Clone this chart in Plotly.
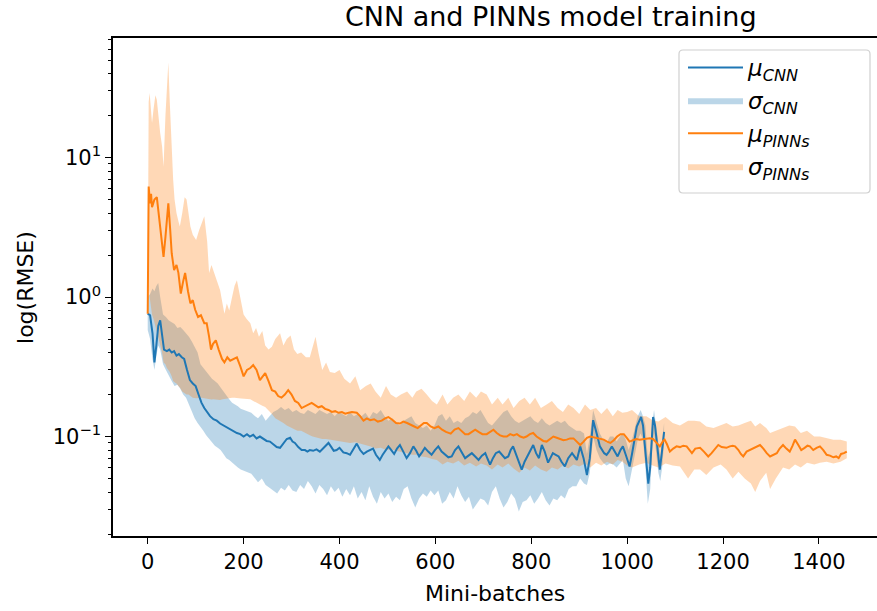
import plotly.graph_objects as go

# ---------------- data ----------------
cnn_x = [0, 5, 10, 14, 18, 22, 26, 30, 34, 40, 45, 50, 55, 60, 65, 71, 76, 82, 88, 94, 100, 106, 112, 118, 123,
         130, 137, 144, 151, 158, 163, 168, 175, 180, 186, 193, 200, 207, 213, 220, 227, 234, 241, 248, 255, 262,
         269, 276, 283, 290, 297, 302, 307, 314, 321, 328, 333, 338, 345, 352, 359, 366, 372, 377, 383, 388, 394,
         400, 408, 415, 422, 429, 436, 443, 450, 457, 464, 470, 476, 484, 490, 496, 502, 508, 514, 520, 526, 533,
         540, 547, 554, 560, 566, 572, 578, 585, 592, 599, 606, 613, 620, 627, 634, 641, 648, 655, 662, 669, 676,
         683, 690, 697, 704, 709, 714, 720, 726, 733, 739, 745, 752, 757, 762, 768, 774, 780, 786, 792, 798, 804,
         810, 816, 822, 828, 835, 840, 845, 851, 857, 863, 870, 877, 885, 890, 895, 902, 909, 916, 922, 929, 934,
         938, 943, 947, 952, 957, 962, 968, 974, 980, 986, 991, 997, 1005, 1010, 1015, 1020, 1026, 1029, 1033,
         1036, 1040, 1044, 1048, 1051, 1054, 1058, 1061, 1065, 1068, 1072, 1075, 1077]
cnn_mu = [0.76, 0.74, 0.55, 0.34, 0.45, 0.62, 0.68, 0.55, 0.42, 0.41, 0.42, 0.40, 0.41, 0.38, 0.39, 0.37, 0.36,
          0.30, 0.254, 0.24, 0.23, 0.20, 0.175, 0.16, 0.15, 0.14, 0.133, 0.13, 0.124, 0.12, 0.117, 0.114, 0.111,
          0.108, 0.106, 0.104, 0.10, 0.104, 0.1, 0.103, 0.097, 0.10, 0.096, 0.093, 0.092, 0.088, 0.084, 0.083,
          0.09, 0.096, 0.098, 0.092, 0.09, 0.084, 0.08, 0.08, 0.078, 0.08, 0.079, 0.081, 0.078, 0.083, 0.086,
          0.09, 0.084, 0.079, 0.08, 0.083, 0.077, 0.076, 0.074, 0.082, 0.089, 0.08, 0.075, 0.078, 0.08, 0.082,
          0.074, 0.068, 0.074, 0.08, 0.085, 0.08, 0.075, 0.082, 0.087, 0.078, 0.07, 0.076, 0.085, 0.079, 0.072,
          0.077, 0.083, 0.078, 0.074, 0.08, 0.085, 0.078, 0.074, 0.071, 0.072, 0.08, 0.085, 0.077, 0.07, 0.073,
          0.076, 0.072, 0.068, 0.073, 0.076, 0.069, 0.063, 0.07, 0.076, 0.078, 0.074, 0.07, 0.072, 0.08, 0.085,
          0.075, 0.064, 0.058, 0.066, 0.072, 0.08, 0.087, 0.076, 0.07, 0.087, 0.078, 0.065, 0.07, 0.076, 0.074,
          0.072, 0.066, 0.061, 0.07, 0.076, 0.072, 0.068, 0.085, 0.07, 0.053, 0.07, 0.131, 0.115, 0.10, 0.085,
          0.08, 0.076, 0.074, 0.078, 0.085, 0.078, 0.072, 0.08, 0.085, 0.074, 0.061, 0.075, 0.095, 0.118, 0.131,
          0.138, 0.12, 0.095, 0.065, 0.046, 0.06, 0.10, 0.138, 0.12, 0.095, 0.07, 0.058, 0.075, 0.095, 0.108]

cnn_band_x = [0, 5, 10, 14, 18, 22, 26, 32, 38, 44, 50, 56, 62, 68, 74, 80, 86, 92, 98, 104, 110, 116, 122, 128,
              134, 140, 146, 152, 158, 164, 170, 176, 182, 188, 194, 200, 208, 216, 224, 230, 238, 246, 254, 262,
              270, 278, 286, 294, 302, 310, 318, 326, 334, 342, 350, 358, 366, 374, 382, 390, 398, 406, 414, 422,
              430, 438, 446, 454, 462, 470, 478, 486, 494, 502, 510, 518, 526, 534, 542, 550, 558, 566, 574, 582,
              590, 598, 606, 614, 622, 630, 638, 646, 654, 662, 670, 678, 686, 694, 702, 710, 718, 726, 734, 742,
              750, 758, 766, 774, 782, 790, 798, 806, 814, 822, 830, 838, 846, 854, 862, 870, 878, 886, 894, 902,
              910, 916, 922, 929, 936, 943, 950, 957, 964, 971, 978, 985, 991, 997, 1003, 1010, 1016, 1022, 1028,
              1033, 1038, 1043, 1048, 1052, 1056, 1060, 1065, 1069, 1073, 1077]
cnn_lo = [0.58, 0.50, 0.36, 0.30, 0.38, 0.45, 0.42, 0.33, 0.30, 0.27, 0.25, 0.23, 0.235, 0.22, 0.20, 0.19, 0.17,
          0.15, 0.135, 0.125, 0.118, 0.11, 0.102, 0.096, 0.09, 0.086, 0.083, 0.08, 0.075, 0.07, 0.068, 0.065,
          0.062, 0.06, 0.058, 0.057, 0.055, 0.054, 0.05, 0.047, 0.05, 0.045, 0.043, 0.041, 0.039, 0.043, 0.041,
          0.045, 0.041, 0.04, 0.045, 0.042, 0.048, 0.044, 0.039, 0.045, 0.042, 0.038, 0.044, 0.04, 0.043, 0.037,
          0.042, 0.038, 0.044, 0.036, 0.04, 0.035, 0.044, 0.037, 0.033, 0.04, 0.036, 0.039, 0.034, 0.037, 0.035,
          0.042, 0.044, 0.036, 0.031, 0.036, 0.039, 0.037, 0.041, 0.038, 0.041, 0.033, 0.035, 0.04, 0.036, 0.044,
          0.038, 0.034, 0.037, 0.03, 0.033, 0.036, 0.035, 0.032, 0.04, 0.044, 0.036, 0.031, 0.034, 0.039, 0.036,
          0.029, 0.034, 0.035, 0.038, 0.033, 0.036, 0.04, 0.035, 0.032, 0.036, 0.035, 0.038, 0.036, 0.042, 0.044,
          0.044, 0.05, 0.046, 0.045, 0.055, 0.10, 0.08, 0.07, 0.065, 0.062, 0.064, 0.063, 0.06, 0.064, 0.068,
          0.05, 0.044, 0.058, 0.075, 0.095, 0.105, 0.095, 0.06, 0.033, 0.042, 0.08, 0.105, 0.08, 0.055, 0.048,
          0.06, 0.09]
cnn_hi = [1.00, 1.05, 1.15, 1.10, 1.20, 1.26, 1.00, 0.75, 0.72, 0.68, 0.66, 0.64, 0.60, 0.61, 0.58, 0.55, 0.52,
          0.48, 0.44, 0.40, 0.33, 0.31, 0.29, 0.275, 0.26, 0.25, 0.24, 0.225, 0.21, 0.195, 0.185, 0.175, 0.17,
          0.165, 0.158, 0.155, 0.15, 0.148, 0.14, 0.135, 0.145, 0.13, 0.14, 0.15, 0.155, 0.163, 0.155, 0.16, 0.15,
          0.155, 0.148, 0.145, 0.155, 0.15, 0.145, 0.155, 0.15, 0.145, 0.15, 0.14, 0.15, 0.145, 0.14, 0.15, 0.14,
          0.145, 0.14, 0.148, 0.135, 0.15, 0.145, 0.155, 0.14, 0.13, 0.135, 0.125, 0.12, 0.13, 0.135, 0.14,
          0.125, 0.12, 0.115, 0.12, 0.11, 0.12, 0.14, 0.145, 0.13, 0.14, 0.125, 0.13, 0.125, 0.135, 0.14, 0.15,
          0.145, 0.155, 0.14, 0.125, 0.12, 0.13, 0.14, 0.15, 0.155, 0.14, 0.13, 0.125, 0.13, 0.135, 0.14, 0.13,
          0.125, 0.135, 0.125, 0.12, 0.125, 0.13, 0.125, 0.13, 0.12, 0.115, 0.11, 0.11, 0.105, 0.075, 0.10, 0.155,
          0.13, 0.105, 0.095, 0.09, 0.10, 0.10, 0.092, 0.10, 0.105, 0.095, 0.08, 0.095, 0.115, 0.14, 0.155, 0.14,
          0.12, 0.07, 0.08, 0.125, 0.155, 0.12, 0.09, 0.072, 0.095, 0.125]

pinn_x = [0, 2, 5, 7, 9, 14, 19, 23, 26, 30, 33, 37, 40, 43, 47, 50, 55, 60, 64, 69, 74, 78, 84, 89, 94, 99, 105,
          111, 118, 123, 128, 132, 136, 142, 148, 155, 160, 166, 172, 180, 186, 193, 200, 207, 214, 220, 227, 234,
          240, 245, 252, 259, 266, 272, 279, 286, 293, 300, 307, 314, 321, 328, 335, 342, 349, 356, 363, 370, 377,
          384, 391, 398, 405, 412, 419, 426, 436, 443, 450, 457, 464, 472, 480, 488, 495, 502, 510, 518, 526, 533,
          541, 549, 556, 563, 570, 576, 582, 590, 598, 606, 614, 622, 632, 640, 648, 655, 662, 669, 676, 683, 690,
          698, 707, 714, 721, 728, 735, 742, 749, 756, 763, 770, 777, 784, 790, 797, 804, 811, 818, 825, 832, 839,
          846, 853, 860, 867, 874, 881, 888, 895, 902, 909, 916, 923, 930, 937, 944, 951, 958, 965, 972, 979, 986,
          993, 1000, 1005, 1012, 1019, 1026, 1033, 1040, 1047, 1054, 1061, 1068, 1075, 1078, 1083, 1089, 1096,
          1103, 1110, 1117, 1124, 1131, 1135, 1142, 1152, 1160, 1169, 1176, 1183, 1190, 1197, 1207, 1214, 1220,
          1225, 1232, 1237, 1242, 1249, 1256, 1263, 1270, 1277, 1284, 1291, 1298, 1305, 1312, 1318, 1325, 1332,
          1339, 1345, 1350, 1356, 1363, 1370, 1376, 1381, 1388, 1395, 1402, 1409, 1416, 1423, 1430, 1436, 1441,
          1446, 1452, 1458]
pinn_mu = [0.76, 6.2, 4.7, 5.5, 4.4, 5.0, 5.2, 4.0, 3.2, 2.4, 1.94, 2.7, 3.6, 4.7, 3.0, 2.06, 1.56, 1.7, 1.49,
           1.06, 1.3, 1.49, 1.1, 0.9, 0.95, 0.81, 0.72, 0.74, 0.65, 0.65, 0.52, 0.42, 0.46, 0.49, 0.42, 0.36, 0.34,
           0.37, 0.35, 0.36, 0.37, 0.32, 0.27, 0.30, 0.31, 0.325, 0.30, 0.254, 0.27, 0.285, 0.25, 0.215, 0.21,
           0.195, 0.19, 0.20, 0.215, 0.20, 0.18, 0.174, 0.16, 0.165, 0.17, 0.174, 0.168, 0.162, 0.165, 0.158,
           0.155, 0.15, 0.152, 0.148, 0.15, 0.146, 0.148, 0.15, 0.148, 0.14, 0.13, 0.135, 0.131, 0.133, 0.128,
           0.13, 0.135, 0.138, 0.132, 0.125, 0.124, 0.128, 0.125, 0.122, 0.118, 0.115, 0.12, 0.125, 0.125, 0.118,
           0.115, 0.118, 0.112, 0.108, 0.105, 0.112, 0.115, 0.11, 0.104, 0.104, 0.108, 0.112, 0.108, 0.104, 0.104,
           0.108, 0.112, 0.106, 0.102, 0.10, 0.10, 0.104, 0.102, 0.104, 0.10, 0.098, 0.10, 0.104, 0.106, 0.10,
           0.097, 0.093, 0.092, 0.096, 0.10, 0.098, 0.096, 0.094, 0.095, 0.097, 0.097, 0.092, 0.087, 0.092, 0.098,
           0.10, 0.099, 0.097, 0.096, 0.095, 0.092, 0.09, 0.094, 0.10, 0.104, 0.104, 0.097, 0.092, 0.094, 0.096,
           0.095, 0.096, 0.097, 0.097, 0.096, 0.09, 0.085, 0.093, 0.095, 0.088, 0.078, 0.082, 0.085, 0.084, 0.086,
           0.085, 0.08, 0.076, 0.082, 0.083, 0.078, 0.072, 0.076, 0.082, 0.087, 0.084, 0.083, 0.085, 0.086, 0.085,
           0.08, 0.075, 0.072, 0.078, 0.08, 0.082, 0.085, 0.087, 0.082, 0.076, 0.072, 0.074, 0.076, 0.082, 0.087,
           0.082, 0.078, 0.086, 0.095, 0.088, 0.08, 0.083, 0.086, 0.085, 0.08, 0.083, 0.085, 0.08, 0.074, 0.073,
           0.071, 0.072, 0.07, 0.075, 0.076, 0.078]

pinn_band_x = [0, 1, 2, 4, 7, 9, 12, 16, 19, 23, 26, 30, 33, 37, 40, 43, 46, 50, 53, 56, 60, 64, 67, 72, 77, 81,
               85, 89, 94, 101, 107, 113, 118, 124, 128, 133, 137, 142, 147, 151, 156, 160, 165, 170, 176, 181,
               186, 190, 195, 200, 206, 214, 220, 226, 232, 239, 245, 252, 259, 266, 276, 283, 290, 298, 305, 312,
               320, 330, 338, 344, 350, 356, 364, 372, 380, 390, 400, 410, 422, 433, 443, 455, 465, 475, 486, 497,
               507, 518, 528, 541, 552, 560, 571, 582, 593, 603, 615, 625, 637, 648, 660, 672, 685, 695, 707, 718,
               730, 740, 752, 763, 775, 786, 797, 808, 820, 832, 843, 855, 866, 877, 888, 900, 912, 923, 935, 946,
               958, 970, 980, 990, 1000, 1010, 1025, 1040, 1053, 1065, 1080, 1095, 1110, 1127, 1140, 1152, 1165,
               1180, 1195, 1207, 1220, 1232, 1245, 1258, 1267, 1277, 1290, 1298, 1310, 1325, 1338, 1350, 1362,
               1375, 1390, 1402, 1416, 1430, 1445, 1458]
pinn_lo = [0.76, 1.0, 1.2, 1.0, 0.85, 0.75, 0.70, 0.62, 0.55, 0.50, 0.45, 0.40, 0.34, 0.33, 0.31, 0.30, 0.29,
           0.27, 0.25, 0.245, 0.24, 0.23, 0.225, 0.21, 0.205, 0.20, 0.20, 0.195, 0.19, 0.188, 0.19, 0.19, 0.188,
           0.186, 0.185, 0.184, 0.185, 0.184, 0.183, 0.183, 0.185, 0.186, 0.188, 0.19, 0.19, 0.19, 0.188, 0.188,
           0.187, 0.186, 0.185, 0.185, 0.18, 0.175, 0.17, 0.166, 0.163, 0.155, 0.145, 0.135, 0.13, 0.125, 0.12,
           0.116, 0.113, 0.11, 0.11, 0.105, 0.102, 0.10, 0.099, 0.097, 0.096, 0.096, 0.095, 0.094, 0.093, 0.092,
           0.09, 0.091, 0.089, 0.087, 0.085, 0.082, 0.083, 0.08, 0.081, 0.079, 0.078, 0.076, 0.074, 0.074, 0.072,
           0.071, 0.069, 0.068, 0.063, 0.066, 0.064, 0.067, 0.062, 0.065, 0.061, 0.064, 0.062, 0.058, 0.063, 0.06,
           0.064, 0.059, 0.055, 0.06, 0.057, 0.062, 0.058, 0.056, 0.06, 0.058, 0.062, 0.059, 0.063, 0.061, 0.064,
           0.06, 0.065, 0.062, 0.066, 0.063, 0.068, 0.066, 0.062, 0.06, 0.063, 0.065, 0.062, 0.06, 0.064, 0.062,
           0.061, 0.05, 0.058, 0.058, 0.053, 0.06, 0.063, 0.058, 0.05, 0.056, 0.05, 0.046, 0.04, 0.048, 0.055,
           0.042, 0.05, 0.06, 0.058, 0.063, 0.06, 0.065, 0.063, 0.065, 0.066, 0.064, 0.066, 0.07]
pinn_hi = [0.9, 12, 25, 29, 20, 17.7, 22, 28, 26, 18, 15, 12, 8.6, 20, 30, 48, 25, 10, 7, 5, 4, 3.5, 3.2, 4.0, 5.2,
           5.0, 4.0, 3.2, 2.8, 2.56, 3.0, 3.4, 3.8, 2.5, 1.49, 1.7, 1.56, 1.4, 1.25, 1.12, 0.9, 0.76, 0.9, 0.8,
           1.0, 1.2, 1.32, 1.12, 0.9, 0.75, 0.7, 0.65, 0.55, 0.6, 0.52, 0.57, 0.45, 0.42, 0.44, 0.5, 0.55, 0.45,
           0.5, 0.53, 0.42, 0.39, 0.4, 0.37, 0.37, 0.45, 0.52, 0.4, 0.3, 0.34, 0.29, 0.285, 0.3, 0.26, 0.24, 0.27,
           0.215, 0.23, 0.24, 0.21, 0.19, 0.23, 0.2, 0.19, 0.2, 0.21, 0.19, 0.21, 0.22, 0.2, 0.18, 0.17, 0.2,
           0.17, 0.19, 0.2, 0.18, 0.21, 0.19, 0.21, 0.2, 0.17, 0.19, 0.17, 0.19, 0.16, 0.18, 0.19, 0.17, 0.19,
           0.16, 0.17, 0.18, 0.16, 0.15, 0.17, 0.16, 0.145, 0.17, 0.155, 0.16, 0.145, 0.16, 0.14, 0.155, 0.148,
           0.15, 0.155, 0.14, 0.14, 0.131, 0.128, 0.138, 0.125, 0.12, 0.13, 0.13, 0.128, 0.118, 0.115, 0.12,
           0.125, 0.118, 0.12, 0.125, 0.13, 0.118, 0.125, 0.115, 0.106, 0.11, 0.115, 0.12, 0.118, 0.106, 0.11,
           0.1, 0.1, 0.097, 0.095, 0.095, 0.092]

x_ticks = [0, 200, 400, 600, 800, 1000, 1200, 1400]
y_tick_vals = [0.1, 1, 10]
y_tick_text = ["10<sup>−1</sup>", "10<sup>0</sup>", "10<sup>1</sup>"]

title_text = "CNN and PINNs model training"
x_label = "Mini-batches"
y_label = "log(RMSE)"

BLUE = "#1f77b4"
ORANGE = "#ff7f0e"
BLUE_FILL = "rgba(31,119,180,0.3)"
ORANGE_FILL = "rgba(255,127,14,0.3)"
FONT = "DejaVu Sans"

fig = go.Figure()
# bands first (CNN, then PINNs on top), mean lines drawn over them
fig.add_trace(go.Scatter(x=cnn_band_x, y=cnn_lo, mode="lines", line=dict(width=0, color=BLUE_FILL),
                         showlegend=False, hoverinfo="skip"))
fig.add_trace(go.Scatter(x=cnn_band_x, y=cnn_hi, mode="lines", line=dict(width=0, color=BLUE_FILL),
                         fill="tonexty", fillcolor=BLUE_FILL, name="<i>σ</i><sub><i>CNN</i></sub>",
                         legendrank=2))
fig.add_trace(go.Scatter(x=pinn_band_x, y=pinn_lo, mode="lines", line=dict(width=0, color=ORANGE_FILL),
                         showlegend=False, hoverinfo="skip"))
fig.add_trace(go.Scatter(x=pinn_band_x, y=pinn_hi, mode="lines", line=dict(width=0, color=ORANGE_FILL),
                         fill="tonexty", fillcolor=ORANGE_FILL, name="<i>σ</i><sub><i>PINNs</i></sub>",
                         legendrank=4))
fig.add_trace(go.Scatter(x=cnn_x, y=cnn_mu, mode="lines", line=dict(color=BLUE, width=2),
                         name="<i>μ</i><sub><i>CNN</i></sub>", legendrank=1))
fig.add_trace(go.Scatter(x=pinn_x, y=pinn_mu, mode="lines", line=dict(color=ORANGE, width=2),
                         name="<i>μ</i><sub><i>PINNs</i></sub>", legendrank=3))

# legend frame (matplotlib-style rounded box), in paper coordinates
def px_to_paper_x(px):
    return (px - 113) / 764.0

def py_to_paper_y(py):
    return (536 - py) / 498.0

x0, x1 = px_to_paper_x(679), px_to_paper_x(870)
y0, y1 = py_to_paper_y(193), py_to_paper_y(50)
rx, ry = 4 / 764.0, 4 / 498.0
frame_path = (f"M {x0 + rx},{y1} L {x1 - rx},{y1} Q {x1},{y1} {x1},{y1 - ry} "
              f"L {x1},{y0 + ry} Q {x1},{y0} {x1 - rx},{y0} L {x0 + rx},{y0} "
              f"Q {x0},{y0} {x0},{y0 + ry} L {x0},{y1 - ry} Q {x0},{y1} {x0 + rx},{y1} Z")

fig.update_layout(
    width=877, height=611,
    margin=dict(l=113, r=0, t=38, b=75),
    paper_bgcolor="white", plot_bgcolor="white",
    font=dict(family=FONT, size=21, color="black"),
    title=dict(text=title_text, x=0.628, xref="container", xanchor="center",
               y=1 - 17 / 611, yref="container", yanchor="middle",
               font=dict(family=FONT, size=27, color="black")),
    showlegend=True,
    legend=dict(x=px_to_paper_x(683), y=py_to_paper_y(46), xanchor="left", yanchor="top",
                bgcolor="rgba(0,0,0,0)", borderwidth=0, traceorder="normal",
                font=dict(family=FONT, size=23, color="black"),
                itemwidth=55),
    shapes=[dict(type="path", path=frame_path, xref="paper", yref="paper",
                 line=dict(color="#d0d0d0", width=1.2), fillcolor="rgba(255,255,255,0.8)",
                 layer="above")],
    xaxis=dict(range=[-72.4, 1521], tickvals=x_ticks, ticks="outside", ticklen=6, tickwidth=1.3,
               tickcolor="black", showline=True, linecolor="black", linewidth=1.5, mirror=True,
               showgrid=False, zeroline=False, tickfont=dict(family=FONT, size=21)),
    yaxis=dict(type="log", range=[-1.713, 1.857], tickvals=y_tick_vals, ticktext=y_tick_text,
               ticks="outside", ticklen=6, tickwidth=1.3, tickcolor="black",
               showline=True, linecolor="black", linewidth=1.5, mirror=False,
               showgrid=False, zeroline=False, tickfont=dict(family=FONT, size=21),
               minor=dict(ticks="outside", ticklen=3.5, tickwidth=1, tickcolor="black",
                          dtick="D1", showgrid=False)),
    annotations=[
        dict(text=x_label, xref="paper", yref="paper", x=0.5, y=-0.1145, xanchor="center",
             yanchor="middle", showarrow=False, font=dict(family=FONT, size=22)),
        dict(text=y_label, xref="paper", yref="paper", x=-0.1152, y=0.5, xanchor="center",
             yanchor="middle", textangle=-90, showarrow=False, font=dict(family=FONT, size=22)),
    ],
)

fig.write_html("out.html")
